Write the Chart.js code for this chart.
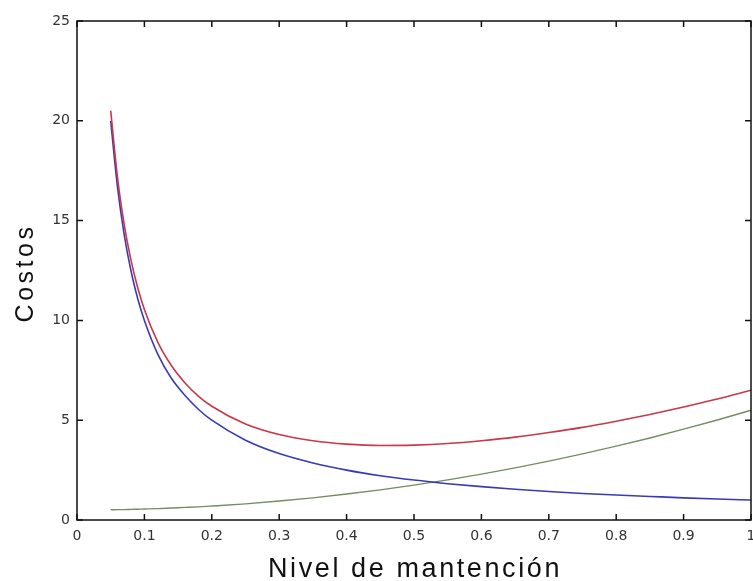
<!DOCTYPE html>
<html>
<head>
<meta charset="utf-8">
<script src="https://cdn.jsdelivr.net/npm/chart.js@4/dist/chart.umd.min.js"></script>
<style>
  html, body { margin: 0; padding: 0; background: #fff; }
  #wrap { width: 753px; height: 581px; }
</style>
</head>
<body>
<div id="wrap"><canvas id="chart" width="753" height="581"></canvas></div>
<script>
// valores
const nivel = [0.05, 0.06, 0.07, 0.08, 0.09, 0.10, 0.12, 0.14, 0.16, 0.18, 0.20, 0.25, 0.30, 0.35,
  0.40, 0.45, 0.50, 0.55, 0.60, 0.65, 0.70, 0.75, 0.80, 0.85, 0.90, 0.95, 1.00];
const costoAzul = [20.0, 16.7, 14.3, 12.5, 11.1, 10.0, 8.3, 7.1, 6.25, 5.55, 5.0, 4.0, 3.33, 2.86,
  2.5, 2.22, 2.0, 1.82, 1.67, 1.54, 1.43, 1.33, 1.25, 1.18, 1.11, 1.05, 1.0];
const costoVerde = [0.51, 0.52, 0.52, 0.53, 0.54, 0.55, 0.57, 0.60, 0.63, 0.66, 0.70, 0.81, 0.95, 1.11,
  1.30, 1.51, 1.75, 2.01, 2.30, 2.61, 2.95, 3.31, 3.70, 4.11, 4.55, 5.01, 5.50];
const costoRojo = [20.51, 17.19, 14.81, 13.03, 11.65, 10.55, 8.90, 7.74, 6.88, 6.21, 5.70, 4.81, 4.28, 3.97,
  3.80, 3.73, 3.75, 3.83, 3.97, 4.15, 4.38, 4.64, 4.95, 5.29, 5.66, 6.06, 6.50];
const xTicks = [0, 0.1, 0.2, 0.3, 0.4, 0.5, 0.6, 0.7, 0.8, 0.9, 1];
const yTicks = [0, 5, 10, 15, 20, 25];

const pts = vals => nivel.map((x, i) => ({ x: x, y: vals[i] }));

// ticks hacia adentro en los cuatro lados + titulos de ejes
const marcoPlugin = {
  id: 'marco',
  afterDraw(chart) {
    const ctx = chart.ctx, a = chart.chartArea;
    const sx = chart.scales.x, sy = chart.scales.y;
    ctx.save();
    ctx.strokeStyle = '#111';
    ctx.lineWidth = 1.5;
    ctx.strokeRect(a.left, a.top, a.right - a.left, a.bottom - a.top);
    ctx.beginPath();
    xTicks.forEach(v => {
      const px = sx.getPixelForValue(v);
      ctx.moveTo(px, a.bottom); ctx.lineTo(px, a.bottom - 6);
      ctx.moveTo(px, a.top); ctx.lineTo(px, a.top + 6);
    });
    yTicks.forEach(v => {
      const py = sy.getPixelForValue(v);
      ctx.moveTo(a.left, py); ctx.lineTo(a.left + 6, py);
      ctx.moveTo(a.right, py); ctx.lineTo(a.right - 6, py);
    });
    ctx.stroke();

    ctx.fillStyle = '#111';
    ctx.font = '27px "Liberation Sans", Arial, sans-serif';
    ctx.letterSpacing = '2.6px';
    ctx.textAlign = 'center';
    ctx.textBaseline = 'alphabetic';
    ctx.fillText('Nivel de mantención', 415, 577);
    ctx.font = '25px "Liberation Sans", Arial, sans-serif';
    ctx.letterSpacing = '3.5px';
    ctx.translate(33, 273);
    ctx.rotate(-Math.PI / 2);
    ctx.fillText('Costos', 0, 0);
    ctx.restore();
  }
};

new Chart(document.getElementById('chart'), {
  type: 'line',
  data: {
    datasets: [
      { label: 'total', data: pts(costoRojo), borderColor: '#c83848', borderWidth: 1.6 },
      { label: 'falla', data: pts(costoAzul), borderColor: '#3a3ab8', borderWidth: 1.6 },
      { label: 'mantencion', data: pts(costoVerde), borderColor: '#748c62', borderWidth: 1.4 }
    ]
  },
  options: {
    responsive: false,
    animation: false,
    layout: { padding: { left: 0, right: 2, top: 21, bottom: 0 } },
    elements: { point: { radius: 0 }, line: { tension: 0.4, cubicInterpolationMode: 'monotone' } },
    plugins: { legend: { display: false }, tooltip: { enabled: false } },
    scales: {
      x: {
        type: 'linear', min: 0, max: 1,
        afterBuildTicks: s => { s.ticks = xTicks.map(v => ({ value: v })); },
        afterFit: s => { s.height = 61; s.paddingRight = 0; s.paddingLeft = 0; },
        grid: { display: false, drawTicks: false },
        border: { display: false },
        ticks: {
          padding: 8, color: '#333',
          font: { family: '"DejaVu Sans", sans-serif', size: 14 },
          maxRotation: 0,
          callback: v => String(v)
        }
      },
      y: {
        min: 0, max: 25,
        afterBuildTicks: s => { s.ticks = yTicks.map(v => ({ value: v })); },
        afterFit: s => { s.width = 77; s.paddingTop = 0; s.paddingBottom = 0; },
        grid: { display: false, drawTicks: false },
        border: { display: false },
        ticks: {
          padding: 7, color: '#333',
          font: { family: '"DejaVu Sans", sans-serif', size: 14 }
        }
      }
    }
  },
  plugins: [marcoPlugin]
});
</script>
</body>
</html>
